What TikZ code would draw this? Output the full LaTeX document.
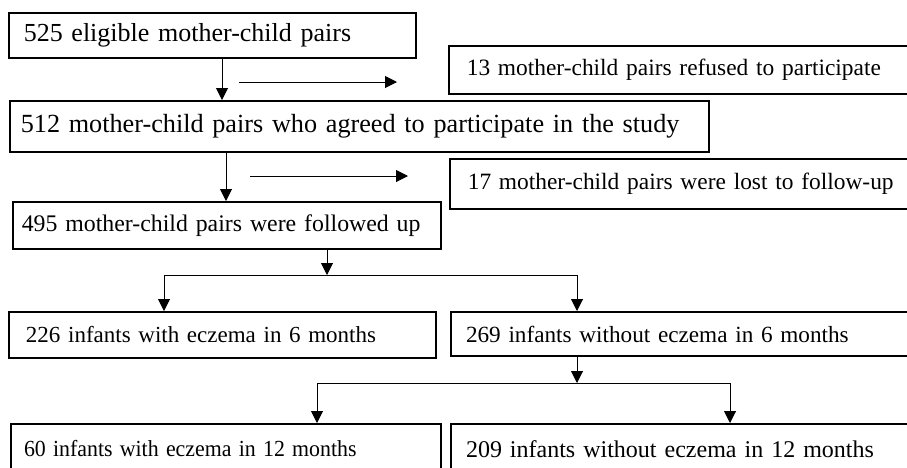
\documentclass[tikz,border=0pt]{standalone}
\usepackage{fontspec}
\setmainfont{Liberation Serif}
\usetikzlibrary{arrows.meta}
\newcommand{\fs}[1]{\fontsize{#1}{#1}\selectfont}
\begin{document}
\begin{tikzpicture}[x=1pt,y=-1pt,
  box/.style={draw, anchor=north west, inner sep=0pt, align=left},
  thinbox/.style={box, line width=1.6pt},
  thickbox/.style={box, line width=2pt},
  arr/.style={line width=1pt, -{Triangle[length=12pt,width=12pt]}},
  plain/.style={line width=1pt}]
\fill[white] (0,0) rectangle (907,467);
\useasboundingbox (0,0) rectangle (907,467);
% boxes
\node[thinbox, minimum height=45pt, text width=407pt, font=\fs{26}] (b1) at (8,12) {\hspace*{15pt}525 eligible mother-child pairs};
\node[thinbox, minimum height=48pt, text width=460pt, font=\fs{23.4}] (b13) at (448,45) {\hspace*{18pt}13 mother-child pairs refused to participate};
\node[thinbox, minimum height=51pt, text width=699pt, font=\fs{26.2}] (b2) at (9,100) {\hspace*{11pt}512 mother-child pairs who agreed to participate in the study};
\node[thinbox, minimum height=50pt, text width=460pt, font=\fs{23.4}] (b17) at (449,158) {\hspace*{18pt}17 mother-child pairs were lost to follow-up};
\node[thinbox, minimum height=47pt, text width=428pt, font=\fs{23.8}] (b3) at (12,201) {\hspace*{9pt}495 mother-child pairs were followed up};
\node[thickbox, minimum height=46pt, text width=427pt, font=\fs{23}] (b226) at (8,311) {\hspace*{17pt}226 infants with eczema in 6 months};
\node[thickbox, minimum height=44pt, text width=460pt, font=\fs{23.2}] (b269) at (450,311) {\hspace*{15pt}269 infants without eczema in 6 months};
\node[thickbox, minimum height=50pt, text width=430pt, font=\fs{23}] (b60) at (10,423) {\hspace*{13pt}\scalebox{0.95}[1]{60 infants with eczema in 12 months}};
\node[thickbox, minimum height=50pt, text width=460pt, font=\fs{24}] (b209) at (450,423) {\hspace*{15pt}209 infants without eczema in 12 months};
% helper coordinates
\coordinate (v1) at (222,0);
\coordinate (v2) at (226,0);
\coordinate (v3) at (327,275);
\coordinate (l1) at (164,275);
\coordinate (r1) at (577,275);
\coordinate (v4) at (577,383);
\coordinate (l2) at (317,383);
\coordinate (r2) at (730,383);
\coordinate (h1s) at (239,82);
\coordinate (h1e) at (397,82);
\coordinate (h2s) at (250,176);
\coordinate (h2e) at (408,176);
% connectors
\draw[arr] (b1.south -| v1) -- (b2.north -| v1);
\draw[arr] (h1s) -- (h1e);
\draw[arr] (b2.south -| v2) -- (b3.north -| v2);
\draw[arr] (h2s) -- (h2e);
\draw[arr] (b3.south -| v3) -- (v3);
\draw[plain] (l1) -- (r1);
\draw[arr] (l1) -- (l1 |- b226.north);
\draw[arr] (r1) -- (r1 |- b269.north);
\draw[arr] (b269.south -| v4) -- (v4);
\draw[plain] (l2) -- (r2);
\draw[arr] (l2) -- (l2 |- b60.north);
\draw[arr] (r2) -- (r2 |- b209.north);
\end{tikzpicture}
\end{document}
